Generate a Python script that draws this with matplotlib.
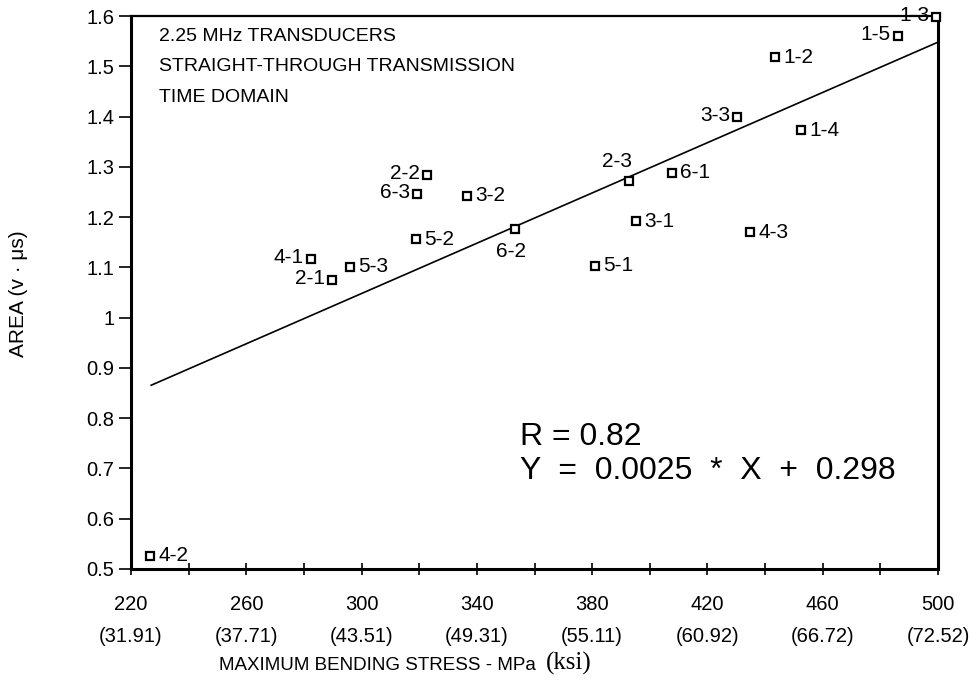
import matplotlib.pyplot as plt
import matplotlib.transforms as mtransforms

plt.rcParams['font.family'] = ['Liberation Sans', 'DejaVu Sans']

# specimen ids, bending stress (MPa) and area (v*us)
ids = ['4-2', '2-1', '4-1', '5-3', '5-2', '6-3', '2-2', '3-2', '6-2', '5-1',
       '2-3', '3-1', '6-1', '3-3', '4-3', '1-4', '1-2', '1-5', '1-3']
stress = [226.6, 289.7, 282.4, 296.0, 318.9, 319.3, 322.8, 336.6, 353.2, 381.0,
          392.8, 395.2, 407.7, 430.2, 434.8, 452.5, 443.5, 486.1, 499.3]
area = [0.526, 1.075, 1.117, 1.101, 1.156, 1.246, 1.284, 1.242, 1.176, 1.103,
        1.272, 1.192, 1.288, 1.399, 1.170, 1.373, 1.518, 1.560, 1.598]

# fit line
slope = 0.0025
intercept = 0.298
fit_x = [227, 500]

mpa_ticks = [220, 260, 300, 340, 380, 420, 460, 500]
ksi_labels = ['(31.91)', '(37.71)', '(43.51)', '(49.31)', '(55.11)',
              '(60.92)', '(66.72)', '(72.52)']
y_ticks = [0.5, 0.6, 0.7, 0.8, 0.9, 1.0, 1.1, 1.2, 1.3, 1.4, 1.5, 1.6]
y_labels = ['0.5', '0.6', '0.7', '0.8', '0.9', '1', '1.1', '1.2', '1.3',
            '1.4', '1.5', '1.6']

# where each id label sits relative to its marker
side = {'4-2': 'r', '2-1': 'l', '4-1': 'l', '5-3': 'r', '5-2': 'r', '6-3': 'l',
        '2-2': 'l', '3-2': 'r', '6-2': 'b', '5-1': 'r', '2-3': 't', '3-1': 'r',
        '6-1': 'r', '3-3': 'l', '4-3': 'r', '1-4': 'r', '1-2': 'r', '1-5': 'l',
        '1-3': 'l'}

fig = plt.figure(figsize=(9.69, 6.87), dpi=100)
ax = fig.add_axes([0.1352, 0.1718, 0.8328, 0.8049])

ax.plot(fit_x, [slope * v + intercept for v in fit_x], color='black', lw=1.2)
ax.plot(stress, area, ls='none', marker='s', ms=6, mfc='white', mec='black',
        mew=1.6, clip_on=False, zorder=3)

fs = 15
for name, x, y in zip(ids, stress, area):
    s = side[name]
    if s == 'r':
        ax.annotate(name, (x, y), xytext=(6, 0), textcoords='offset points',
                    ha='left', va='center', fontsize=fs)
    elif s == 'l':
        ax.annotate(name, (x, y), xytext=(-5, 1), textcoords='offset points',
                    ha='right', va='center', fontsize=fs)
    elif s == 'b':
        ax.annotate(name, (x, y), xytext=(-3, -9), textcoords='offset points',
                    ha='center', va='top', fontsize=fs)
    else:
        ax.annotate(name, (x, y), xytext=(-9, 7), textcoords='offset points',
                    ha='center', va='bottom', fontsize=fs)

ax.set_xlim(220, 500)
ax.set_ylim(0.5, 1.6)
ax.set_xticks(mpa_ticks)
ax.set_xticklabels([str(t) for t in mpa_ticks])
ax.set_xticks(range(220, 501, 20), minor=True)
ax.set_yticks(y_ticks)
ax.set_yticklabels(y_labels)
ax.tick_params(axis='x', which='both', direction='inout', length=9, width=1.2,
               labelsize=14.5, pad=14)
ax.tick_params(axis='y', direction='out', length=9, width=1.2, labelsize=14.5,
               pad=3)

for sp in ax.spines.values():
    sp.set_linewidth(2.2)
ax.spines['top'].set_linewidth(1.6)

trans = mtransforms.blended_transform_factory(ax.transData, ax.transAxes)
for t, lab in zip(mpa_ticks, ksi_labels):
    ax.text(t, -0.123, lab, transform=trans, ha='center', va='center',
            fontsize=14.5, clip_on=False)

fig.text(0.553, 0.032, 'MAXIMUM BENDING STRESS - MPa', ha='right', va='center',
         fontsize=13.5)
fig.text(0.563, 0.034, '(ksi)', ha='left', va='center', fontsize=18,
         family='Liberation Serif')
fig.text(0.019, 0.572, 'AREA (v \u00b7 \u03bcs)', rotation=90, ha='center',
         va='center', fontsize=15)

ax.text(0.035, 0.979, '2.25 MHz TRANSDUCERS\nSTRAIGHT-THROUGH TRANSMISSION\nTIME DOMAIN',
        transform=ax.transAxes, ha='left', va='top', fontsize=14,
        linespacing=2.05)
ax.text(0.482, 0.208, 'R = 0.82\nY  =  0.0025  *  X  +  0.298',
        transform=ax.transAxes, ha='left', va='center', fontsize=23,
        linespacing=1.2)

fig.savefig('out.png', dpi=100)
